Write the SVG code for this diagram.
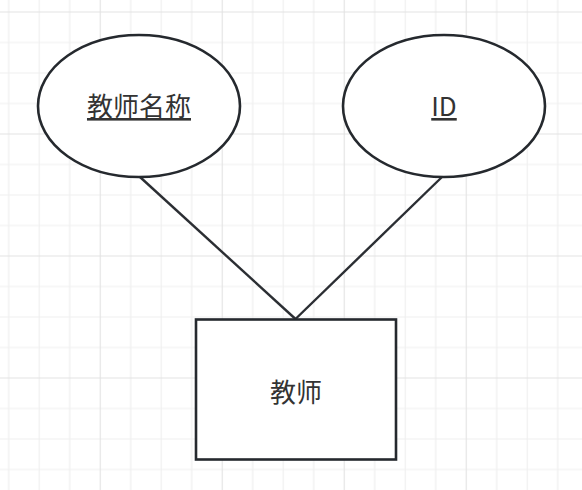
<svg xmlns="http://www.w3.org/2000/svg" width="582" height="490" viewBox="0 0 582 490">
  <defs>
    <pattern id="grid" patternUnits="userSpaceOnUse" x="99.7" y="11.5" width="122" height="122">
      <g stroke="#efefef" stroke-width="1.2">
        <line x1="31" y1="0" x2="31" y2="122"/>
        <line x1="61.5" y1="0" x2="61.5" y2="122"/>
        <line x1="92" y1="0" x2="92" y2="122"/>
        <line x1="0" y1="31" x2="122" y2="31"/>
        <line x1="0" y1="61.5" x2="122" y2="61.5"/>
        <line x1="0" y1="92" x2="122" y2="92"/>
      </g>
      <g stroke="#e2e2e2" stroke-width="1.2">
        <line x1="0.5" y1="0" x2="0.5" y2="122"/>
        <line x1="0" y1="0.5" x2="122" y2="0.5"/>
      </g>
    </pattern>
  </defs>
  <style>
    .shape { fill: #ffffff; stroke: #25292e; stroke-width: 2.6; }
    .conn { stroke: #2b2e33; stroke-width: 2.4; fill: none; }
    .label { font-family: "Noto Sans CJK SC", "Noto Sans", sans-serif; font-size: 26px; fill: #333333; text-anchor: middle; }
    .key { text-decoration: underline; }
  </style>
  <rect x="0" y="0" width="582" height="490" fill="#ffffff"/>
  <rect x="0" y="0" width="582" height="490" fill="url(#grid)"/>
  <g id="connectors">
    <line class="conn" x1="140" y1="177" x2="295.5" y2="319"/>
    <line class="conn" x1="442" y1="177" x2="295.5" y2="319"/>
  </g>
  <g id="attr-name">
    <ellipse class="shape" cx="139" cy="106" rx="101" ry="71"/>
    <text class="label key" x="139" y="116">教师名称</text>
  </g>
  <g id="attr-id">
    <ellipse class="shape" cx="444" cy="106" rx="101" ry="71"/>
    <text class="label key" x="444" y="116">ID</text>
  </g>
  <g id="entity-teacher">
    <rect class="shape" x="196" y="319.5" width="200" height="140"/>
    <text class="label" x="296" y="401.5">教师</text>
  </g>
</svg>
